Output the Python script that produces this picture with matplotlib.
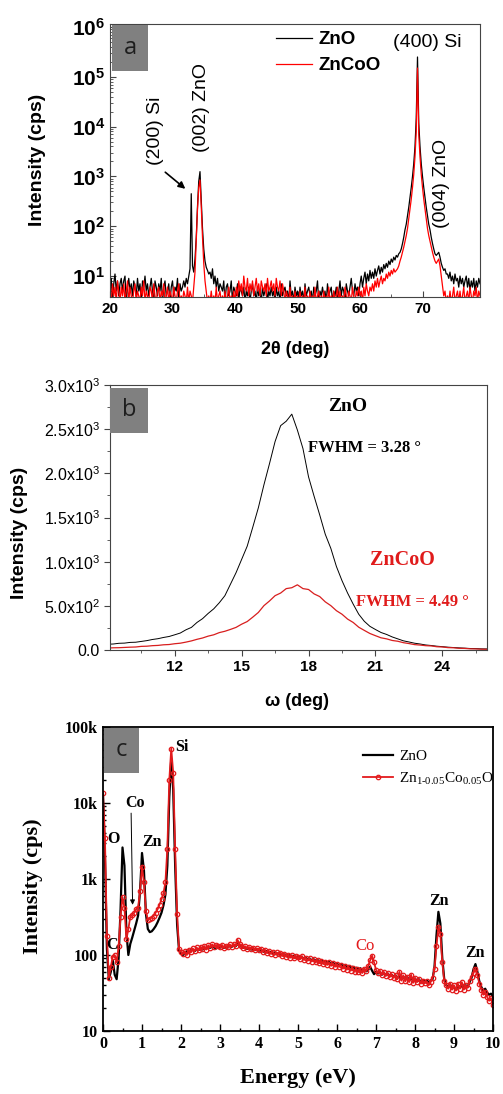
import numpy as np
import matplotlib.pyplot as plt
from matplotlib.patches import Rectangle
from matplotlib.ticker import MultipleLocator, LogLocator, NullFormatter

# ---- panel a: XRD 2theta scan (log intensity) ----
tth = np.round(np.arange(20.0, 79.21, 0.2), 1)
xrd_zno = [
    6, 9, 3, 7, 11, 5, 8, 4, 7, 9,
    5, 8, 10, 3, 6, 9, 5, 7, 4, 8,
    6, 4, 9, 5, 7, 3, 8, 6, 10, 5,
    7, 4, 6, 9, 5, 3, 8, 6, 4, 7,
    5, 9, 3, 6, 8, 4, 5, 7, 3, 6,
    8, 4, 6, 5, 9, 3, 7, 5, 6, 8,
    6, 9, 7, 10, 14, 450, 16, 12, 22, 60,
    250, 800, 1250, 350, 90, 35, 20, 15, 13, 11,
    12, 9, 14, 7, 10, 6, 9, 5, 7, 6,
    5, 8, 3, 6, 7, 4, 5, 8, 3, 6,
    5, 4, 7, 3, 6, 5, 4, 6, 3, 5,
    4, 6, 3, 5, 7, 4, 5, 3, 6, 4,
    5, 3, 6, 4, 5, 7, 3, 5, 4, 6,
    4, 5, 3, 6, 4, 5, 3, 7, 4, 5,
    6, 4, 5, 3, 8, 4, 5, 3, 6, 4,
    5, 3, 6, 4, 5, 3, 7, 4, 5, 6,
    4, 5, 3, 6, 4, 5, 8, 3, 5, 4,
    6, 4, 5, 3, 7, 4, 5, 6, 3, 5,
    4, 6, 3, 5, 8, 4, 6, 5, 3, 7,
    5, 4, 6, 9, 5, 4, 7, 5, 6, 4,
    7, 10, 6, 9, 12, 7, 11, 8, 13, 9,
    12, 9, 14, 10, 13, 16, 11, 15, 12, 17,
    14, 18, 15, 20, 17, 22, 19, 24, 21, 26,
    24, 28, 30, 35, 45, 60, 85, 110, 160, 240,
    380, 600, 1000, 1800, 4000, 15000, 250000, 12000, 4000, 1800,
    1000, 600, 380, 240, 160, 110, 85, 60, 45, 35,
    28, 26, 28, 30, 24, 18, 15, 13, 14, 11,
    11, 9, 12, 8, 10, 7, 11, 8, 9, 6,
    10, 7, 9, 6, 8, 10, 6, 9, 5, 8,
    6, 9, 5, 8, 6, 9, 7]
xrd_znco = [
    5, 3, 7, 4, 6, 3, 8, 5, 3, 6,
    4, 7, 3, 5, 8, 3, 6, 4, 3, 5,
    7, 3, 5, 4, 3, 6, 4, 8, 3, 5,
    4, 3, 6, 5, 3, 7, 4, 3, 5, 6,
    3, 5, 4, 7, 3, 4, 6, 3, 5, 4,
    3, 6, 4, 3, 5, 7, 3, 4, 3, 5,
    4, 3, 6, 3, 5, 4, 3, 6, 12, 50,
    220, 600, 850, 250, 60, 18, 8, 5, 3, 4,
    3, 5, 3, 4, 3, 6, 3, 4, 5, 3,
    4, 3, 5, 3, 4, 6, 3, 4, 3, 5,
    3, 6, 4, 8, 5, 7, 4, 10, 6, 5,
    9, 4, 7, 5, 8, 4, 6, 9, 5, 7,
    4, 8, 6, 5, 7, 4, 9, 5, 6, 8,
    5, 7, 4, 9, 6, 5, 8, 4, 7, 5,
    3, 5, 4, 3, 6, 3, 4, 3, 5, 3,
    4, 3, 5, 3, 4, 3, 6, 3, 4, 3,
    5, 3, 4, 3, 6, 3, 4, 5, 3, 4,
    3, 5, 3, 4, 3, 6, 3, 4, 3, 5,
    3, 4, 6, 3, 5, 3, 4, 3, 6, 4,
    3, 5, 4, 3, 6, 4, 3, 5, 4, 6,
    4, 5, 3, 6, 4, 7, 5, 4, 6, 5,
    7, 5, 8, 6, 9, 6, 8, 10, 7, 9,
    8, 11, 9, 12, 10, 13, 11, 14, 12, 13,
    14, 16, 20, 24, 30, 38, 50, 65, 90, 140,
    220, 350, 600, 1100, 2500, 8000, 150000, 7000, 2500, 1100,
    600, 350, 220, 140, 90, 65, 50, 38, 30, 24,
    20, 18, 20, 22, 16, 10, 6, 4, 5, 3,
    4, 3, 5, 3, 4, 6, 3, 4, 5, 3,
    5, 3, 4, 6, 3, 4, 5, 3, 6, 4,
    3, 5, 4, 6, 3, 5, 4]
a_yticks = [10, 100, 1000, 10000, 100000, 1000000]

# ---- panel b: rocking curve ----
omega = np.arange(9.0, 26.01, 0.25)
rock_zno = [
    65, 68, 76, 78, 86, 88, 97, 106, 119, 128, 142, 153,
    172, 192, 228, 256, 312, 355, 414, 466, 535, 615, 745, 875,
    1025, 1175, 1390, 1610, 1870, 2110, 2360, 2540, 2590, 2670, 2490, 2280,
    1960, 1740, 1530, 1310, 1150, 945, 785, 645, 520, 405, 325, 268,
    232, 198, 176, 148, 126, 104, 91, 77, 68, 57, 51, 43,
    38, 32, 28, 24, 21, 17, 16, 13, 12]
rock_znco = [
    22, 25, 26, 29, 32, 34, 41, 43, 49, 52, 59, 62,
    71, 77, 89, 103, 121, 136, 157, 172, 197, 212, 233, 256,
    292, 322, 372, 425, 502, 555, 615, 645, 695, 705, 738, 695,
    685, 635, 605, 545, 502, 445, 405, 350, 312, 258, 222, 187,
    162, 138, 126, 108, 99, 83, 73, 61, 56, 49, 46, 37,
    34, 27, 25, 19, 18, 13, 12, 9, 8]
b_yticks = [0, 500, 1000, 1500, 2000, 2500, 3000]
b_ylabels = ['0.0', r'$\mathdefault{5.0x10^{2}}$', r'$\mathdefault{1.0x10^{3}}$',
             r'$\mathdefault{1.5x10^{3}}$', r'$\mathdefault{2.0x10^{3}}$',
             r'$\mathdefault{2.5x10^{3}}$', r'$\mathdefault{3.0x10^{3}}$']

# ---- panel c: EDS spectrum ----
energy = np.round(np.arange(0.0, 10.001, 0.05), 2)
eds_zno = [
    13000, 2000, 120, 48, 60, 85, 55, 48, 90, 400,
    2600, 1500, 200, 100, 140, 170, 210, 260, 330, 700,
    2200, 1300, 350, 220, 200, 205, 220, 240, 270, 310,
    360, 450, 620, 1500, 12000, 38000, 15000, 1500, 250, 115,
    105, 100, 108, 112, 106, 115, 118, 112, 120, 116,
    122, 118, 125, 121, 128, 124, 130, 126, 122, 128,
    125, 130, 124, 128, 126, 132, 128, 134, 130, 140,
    135, 128, 124, 126, 120, 122, 118, 121, 116, 119,
    114, 117, 112, 108, 113, 106, 110, 104, 108, 102,
    105, 100, 104, 98, 102, 96, 100, 95, 98, 93,
    96, 91, 94, 89, 92, 87, 90, 85, 88, 84,
    86, 82, 85, 80, 83, 78, 81, 76, 79, 75,
    77, 73, 76, 71, 74, 69, 72, 68, 70, 66,
    68, 64, 67, 62, 65, 61, 64, 70, 62, 56,
    60, 57, 59, 55, 58, 54, 57, 53, 55, 52,
    54, 50, 53, 49, 52, 48, 51, 47, 50, 46,
    49, 45, 48, 44, 47, 45, 46, 44, 46, 48,
    70, 180, 370, 260, 90, 48, 40, 38, 41, 36,
    38, 35, 40, 37, 42, 36, 40, 38, 44, 50,
    65, 76, 60, 45, 38, 34, 36, 32, 30, 31,
    28]
eds_znco = [
    13500, 3500, 180, 50, 70, 95, 100, 80, 130, 320,
    580, 420, 160, 220, 320, 340, 360, 400, 420, 700,
    1450, 900, 380, 290, 300, 310, 330, 360, 400, 460,
    540, 650, 900, 2500, 20000, 52000, 25000, 2500, 350, 120,
    110, 104, 112, 100, 118, 108, 122, 112, 126, 115,
    128, 120, 131, 118, 134, 125, 138, 128, 135, 130,
    128, 136, 124, 132, 127, 138, 129, 140, 133, 158,
    140, 132, 125, 130, 121, 127, 119, 125, 117, 122,
    116, 121, 110, 118, 106, 114, 104, 111, 100, 108,
    102, 106, 97, 104, 95, 101, 92, 99, 90, 96,
    93, 88, 97, 86, 92, 84, 90, 82, 88, 80,
    86, 78, 84, 76, 82, 74, 80, 72, 78, 70,
    76, 70, 74, 66, 72, 64, 70, 62, 68, 60,
    66, 60, 64, 58, 66, 62, 72, 85, 98, 80,
    64, 58, 62, 55, 60, 53, 58, 51, 56, 50,
    55, 48, 60, 46, 54, 45, 52, 44, 55, 43,
    50, 44, 48, 42, 46, 43, 45, 40, 44, 50,
    65, 130, 235, 190, 80, 45, 40, 36, 42, 35,
    40, 34, 42, 36, 44, 35, 40, 37, 46, 52,
    58, 66, 55, 42, 35, 30, 33, 28, 25, 27,
    22]
c_yticks = [10, 100, 1000, 10000, 100000]
c_ylabels = ['10', '100', '1k', '10k', '100k']

W, H = 503, 1094
SANS = 'Liberation Sans'
SERIF = 'Liberation Serif'
plt.rcParams['mathtext.fontset'] = 'custom'
plt.rcParams['mathtext.rm'] = SERIF


def box(x0, y0, x1, y1):
    # pixel box (top-left origin) -> figure fraction rect
    return [x0 / W, 1 - y1 / H, (x1 - x0) / W, (y1 - y0) / H]


def ftxt(px, py, s, **kw):
    fig.text(px / W, 1 - py / H, s, **kw)


def panel_tag(letter, x0, y0, x1, y1):
    fig.add_artist(Rectangle((x0 / W, 1 - y1 / H), (x1 - x0) / W, (y1 - y0) / H,
                             transform=fig.transFigure, facecolor='#808080',
                             edgecolor='none', zorder=5))
    ftxt((x0 + x1) / 2, (y0 + y1) / 2, letter, ha='center', va='center',
         fontsize=17, family='Open Sans', color='#1e1e1e', zorder=6)


fig = plt.figure(figsize=(W / 100, H / 100), dpi=100)

# ================= panel a =================
axa = fig.add_axes(box(110, 24, 480, 297))
axa.plot(tth, xrd_zno, color='black', lw=0.9, label='ZnO')
axa.plot(tth, xrd_znco, color='#ff0000', lw=0.9, label='ZnCoO')
axa.set_yscale('log')
axa.set_xlim(20, 79.2)
axa.set_ylim(3.8, 1.15e6)
axa.set_xticks([20, 30, 40, 50, 60, 70])
axa.set_xticklabels(['20', '30', '40', '50', '60', '70'], fontsize=11,
                    fontweight='bold', family=SANS)
axa.xaxis.set_minor_locator(MultipleLocator(5))
axa.set_yticks(a_yticks)
axa.set_yticklabels([r'$\mathdefault{10^{%d}}$' % k for k in range(1, 7)],
                    fontsize=15, fontweight='bold', family=SANS)
axa.yaxis.set_minor_locator(LogLocator(base=10, subs=np.arange(2, 10)))
axa.yaxis.set_minor_formatter(NullFormatter())
axa.tick_params(which='both', direction='in', color='#444444')
axa.tick_params(which='major', length=4)
axa.tick_params(which='minor', length=2)
for s in axa.spines.values():
    s.set_color('#444444')
    s.set_linewidth(0.8)
axa.legend(frameon=False, loc='upper left', bbox_to_anchor=(267 / W, 1 - 22 / H),
           bbox_transform=fig.transFigure, borderpad=0, handlelength=1.9,
           handletextpad=0.35, labelspacing=0.45,
           prop={'family': SANS, 'weight': 'bold', 'size': 13.5})
axa.text(70.7, 4.8e5, '(400) Si', ha='center', va='center', fontsize=14, family=SANS)
axa.text(27.2, 8300, '(200) Si', rotation=90, ha='center', va='center', fontsize=14, family=SANS)
axa.text(34.7, 24000, '(002) ZnO', rotation=90, ha='center', va='center', fontsize=14, family=SANS)
axa.text(73.1, 725, '(004) ZnO', rotation=90, ha='center', va='center', fontsize=14, family=SANS)
axa.annotate('', xy=(32.4, 520), xytext=(28.5, 1320),
             arrowprops=dict(arrowstyle='-|>', color='black', lw=1.2, mutation_scale=10))
panel_tag('a', 112, 25, 148, 71)
ftxt(37, 160, 'Intensity (cps)', rotation=90, ha='center', va='center',
     fontsize=14, fontweight='bold', family=SANS)
ftxt(295, 350, '2θ (deg)', ha='center', va='center', fontsize=13,
     fontweight='bold', family=SANS)

# ================= panel b =================
axb = fig.add_axes(box(110, 385, 487, 650))
axb.plot(omega, rock_zno, color='black', lw=0.7)
axb.plot(omega, rock_znco, color='#d81e1e', lw=0.9)
axb.set_xlim(9.1, 26.0)
axb.set_ylim(0, 3000)
axb.set_xticks([12, 15, 18, 21, 24])
axb.set_xticklabels(['12', '15', '18', '21', '24'], fontsize=11,
                    fontweight='bold', family=SANS)
axb.xaxis.set_minor_locator(MultipleLocator(1.5))
axb.set_yticks(b_yticks)
axb.set_yticklabels(b_ylabels, fontsize=11.5, family=SANS)
axb.yaxis.set_minor_locator(MultipleLocator(250))
axb.tick_params(which='both', direction='out', color='#444444')
axb.tick_params(which='major', length=4)
axb.tick_params(which='minor', length=2)
for s in axb.spines.values():
    s.set_color('#444444')
    s.set_linewidth(0.8)
axb.text(19.77, 2751, 'ZnO', ha='center', va='center', fontsize=14,
         fontweight='bold', family=SERIF)
axb.text(17.98, 2287, 'FWHM = 3.28 °', ha='left', va='center', fontsize=12,
         fontweight='bold', family=SERIF)
axb.text(22.19, 1019, 'ZnCoO', ha='center', va='center', fontsize=14.5,
         fontweight='bold', family=SERIF, color='#e01b1b')
axb.text(20.13, 543, 'FWHM = 4.49 °', ha='left', va='center', fontsize=12,
         fontweight='bold', family=SERIF, color='#e01b1b')
panel_tag('b', 110, 388, 148, 433)
ftxt(20, 533, 'Intensity (cps)', rotation=90, ha='center', va='center',
     fontsize=14, fontweight='bold', family=SANS)
ftxt(297, 702, 'ω (deg)', ha='center', va='center', fontsize=13,
     fontweight='bold', family=SANS)

# ================= panel c =================
axc = fig.add_axes(box(103, 727, 493, 1031))
axc.plot(energy, eds_zno, color='black', lw=1.6, label='ZnO')
axc.plot(energy, eds_znco, color='#e31a1c', lw=1.3, marker='o', ms=3.2,
         mfc='none', mew=0.9, label=r'Zn$_{\text{1-0.05}}$Co$_{\text{0.05}}$O')
axc.set_yscale('log')
axc.set_xlim(0, 10)
axc.set_ylim(10, 1e5)
axc.set_xticks(range(0, 11))
axc.set_xticklabels([str(k) for k in range(0, 11)], fontsize=11.5,
                    fontweight='bold', family=SERIF)
axc.xaxis.set_minor_locator(MultipleLocator(0.5))
axc.set_yticks(c_yticks)
axc.set_yticklabels(c_ylabels, fontsize=11.5, fontweight='bold', family=SERIF)
axc.yaxis.set_minor_locator(LogLocator(base=10, subs=np.arange(2, 10)))
axc.yaxis.set_minor_formatter(NullFormatter())
axc.tick_params(which='both', direction='in', width=1.0)
axc.tick_params(which='major', length=5)
axc.tick_params(which='minor', length=2.5)
for s in axc.spines.values():
    s.set_linewidth(1.3)
axc.legend(frameon=False, loc='upper left', bbox_to_anchor=(355 / W, 1 - 742 / H),
           bbox_transform=fig.transFigure, borderpad=0, handlelength=2.0,
           handletextpad=0.4, labelspacing=0.45,
           prop={'family': SERIF, 'size': 11})
lab = dict(ha='center', va='center', fontsize=11.5, fontweight='bold', family=SERIF)
axc.text(1.85, 55000, 'Si', **{**lab, 'ha': 'left'})
axc.text(0.81, 10000, 'Co', **lab)
axc.text(0.28, 3370, 'O', **lab)
axc.text(1.26, 3080, 'Zn', **lab)
axc.text(0.23, 135, 'C', **lab)
axc.text(6.72, 131, 'Co', ha='center', va='center', fontsize=12, family=SERIF,
         color='#e31a1c')
axc.text(8.62, 513, 'Zn', **lab)
axc.text(9.54, 106, 'Zn', **lab)
axc.annotate('', xy=(0.76, 420), xytext=(0.72, 8000),
             arrowprops=dict(arrowstyle='-|>', color='black', lw=0.7, mutation_scale=7))
panel_tag('c', 104, 728, 139, 773)
ftxt(33, 886, 'Intensity (cps)', rotation=90, ha='center', va='center',
     fontsize=16, fontweight='bold', family=SERIF)
ftxt(298, 1078, 'Energy (eV)', ha='center', va='center', fontsize=16,
     fontweight='bold', family=SERIF)

fig.savefig('out.png', dpi=100)
